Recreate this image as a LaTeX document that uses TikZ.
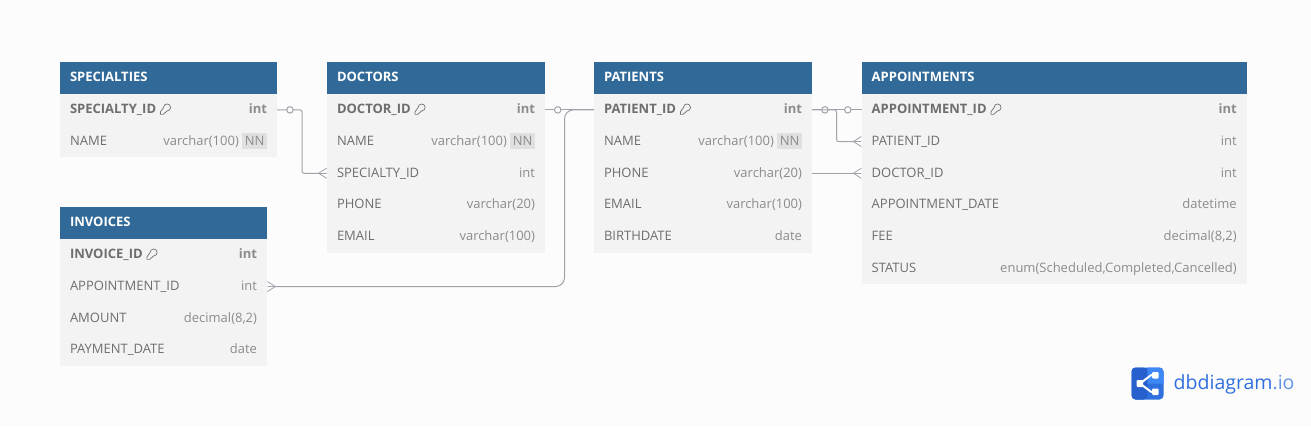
\documentclass[tikz,border=0pt]{standalone}
\usepackage{fontspec}
\setmainfont{Open Sans}
\usetikzlibrary{positioning, arrows.meta}
\definecolor{pagebg}{HTML}{FCFCFC}
\definecolor{headblue}{HTML}{316A99}
\definecolor{rowgray}{HTML}{F3F3F3}
\definecolor{nametext}{HTML}{6E6E6E}
\definecolor{typetext}{HTML}{8C8C8C}
\definecolor{nnfill}{HTML}{E0E0E0}
\definecolor{relgray}{HTML}{A2A2AC}
\definecolor{logoblue}{HTML}{2F6FDE}
\definecolor{logolight}{HTML}{3D88F5}
\definecolor{logodark}{HTML}{2760CC}
\newcommand{\coltype}[1]{\hfill{\color{typetext}#1}}
\newcommand{\nnmark}{\hspace{3.5pt}{\fboxsep=2.5pt\colorbox{nnfill}{\rule[-.7pt]{0pt}{10.2pt}\color{typetext}NN}}}
\newcommand{\keymark}{\hspace{4pt}\tikz[baseline=1pt,x=1pt,y=1pt,line width=.7pt]{\draw[nametext, line join=round] (3.5,7.3) arc[start angle=180, end angle=-90, radius=3.5] -- (3,.4) -- (.4,.4) -- (.4,3) -- cycle;}}
\tikzset{
	tablehead/.style={
		rectangle,
		fill=headblue, text=white,
		font=\fontsize{13}{15}\selectfont\bfseries,
		minimum height=32pt,
		inner xsep=10pt, inner ysep=0pt, outer sep=0pt,
		text height=10pt, text depth=3pt,
		text width=#1,
	},
	tablerow/.style={
		rectangle,
		fill=rowgray, text=nametext,
		font=\fontsize{13}{15}\selectfont,
		minimum height=31.7pt,
		inner xsep=10pt, inner ysep=0pt, outer sep=0pt,
		text height=10.4pt, text depth=2.6pt,
		text width=#1,
	},
	relation/.style={draw=relgray, line width=1pt, rounded corners=2pt},
	manyend/.style={-{Straight Barb[reversed, length=8pt, width=10pt, line width=.8pt, sep=-8pt]Rectangle[length=8pt, width=1pt]}},
	zeromark/.style={circle, draw=relgray, fill=pagebg, line width=1pt, inner sep=0pt, minimum size=6.5pt},
}
\begin{document}
\begin{tikzpicture}[x=1pt, y=-1pt, node distance=0pt]
	\fill[pagebg] (0,0) rectangle (1311,426);
	\useasboundingbox (0,0) rectangle (1311,426);

	% SPECIALTIES
	\node[tablehead=197pt, anchor=north west] (S) at (60,62) {SPECIALTIES};
	\node[tablerow=197pt, below=of S] (S1) {\textbf{SPECIALTY\_ID}\keymark\hfill\textbf{\color{typetext}int}};
	\node[tablerow=197pt, below=of S1] (S2) {NAME\coltype{varchar(100)}\nnmark};

	% INVOICES
	\node[tablehead=187pt, anchor=north west] (I) at (60,207) {INVOICES};
	\node[tablerow=187pt, below=of I] (I1) {\textbf{INVOICE\_ID}\keymark\hfill\textbf{\color{typetext}int}};
	\node[tablerow=187pt, below=of I1] (I2) {APPOINTMENT\_ID\coltype{int}};
	\node[tablerow=187pt, below=of I2] (I3) {AMOUNT\coltype{decimal(8,2)}};
	\node[tablerow=187pt, below=of I3] (I4) {PAYMENT\_DATE\coltype{date}};

	% DOCTORS
	\node[tablehead=198pt, anchor=north west] (D) at (327,62) {DOCTORS};
	\node[tablerow=198pt, below=of D] (D1) {\textbf{DOCTOR\_ID}\keymark\hfill\textbf{\color{typetext}int}};
	\node[tablerow=198pt, below=of D1] (D2) {NAME\coltype{varchar(100)}\nnmark};
	\node[tablerow=198pt, below=of D2] (D3) {SPECIALTY\_ID\coltype{int}};
	\node[tablerow=198pt, below=of D3] (D4) {PHONE\coltype{varchar(20)}};
	\node[tablerow=198pt, below=of D4] (D5) {EMAIL\coltype{varchar(100)}};

	% PATIENTS
	\node[tablehead=198pt, anchor=north west] (P) at (594,62) {PATIENTS};
	\node[tablerow=198pt, below=of P] (P1) {\textbf{PATIENT\_ID}\keymark\hfill\textbf{\color{typetext}int}};
	\node[tablerow=198pt, below=of P1] (P2) {NAME\coltype{varchar(100)}\nnmark};
	\node[tablerow=198pt, below=of P2] (P3) {PHONE\coltype{varchar(20)}};
	\node[tablerow=198pt, below=of P3] (P4) {EMAIL\coltype{varchar(100)}};
	\node[tablerow=198pt, below=of P4] (P5) {BIRTHDATE\coltype{date}};

	% APPOINTMENTS
	\node[tablehead=365pt, anchor=north west] (A) at (861.7,62) {APPOINTMENTS};
	\node[tablerow=365pt, below=of A] (A1) {\textbf{APPOINTMENT\_ID}\keymark\hfill\textbf{\color{typetext}int}};
	\node[tablerow=365pt, below=of A1] (A2) {PATIENT\_ID\coltype{int}};
	\node[tablerow=365pt, below=of A2] (A3) {DOCTOR\_ID\coltype{int}};
	\node[tablerow=365pt, below=of A3] (A4) {APPOINTMENT\_DATE\coltype{datetime}};
	\node[tablerow=365pt, below=of A4] (A5) {FEE\coltype{decimal(8,2)}};
	\node[tablerow=365pt, below=of A5] (A6) {STATUS\coltype{enum(Scheduled,Completed,Cancelled)}};

	% relations
	\draw[relation, manyend] (S1.east) -- node[zeromark, pos=.52] {} ++(25,0) |- (D3.west);
	\draw[relation] (D1.east) -- node[zeromark, pos=.26] {} (P1.west);
	\draw[relation, rounded corners=9pt, manyend] (P1.west) -- ++(-29.5,0) |- (I2.east);
	\draw[relation] (P1.east) -- node[zeromark, pos=.26] {} node[zeromark, pos=.72] {} (A1.west);
	\draw[relation, manyend] (P1.east) -- ++(24.5,0) |- (A2.west);
	\draw[relation, manyend] (P3.east) -- (A3.west);

	% logo
	\fill[logoblue, rounded corners=4pt] (1131.5,367.5) rectangle (1163.5,399.5);
	\fill[logodark, rounded corners=4pt] (1131.5,367.5) rectangle (1147.5,399.5);
	\fill[logolight] (1147.5,367.5) -- (1159.5,367.5) arc[start angle=90, end angle=0, radius=4pt] -- (1163.5,383.5) -- (1147.5,383.5) -- cycle;
	\draw[white, line width=2pt, line join=round] (1155,375.2) -- (1151,375.2) -- (1140,383.5) -- (1151,391.8) -- (1155,391.8);
	\fill[white, rounded corners=1pt] (1136.5,380) rectangle (1143,387) (1152,372) rectangle (1158.5,378.5) (1152,388.5) rectangle (1158.5,395);
	\node[anchor=west, inner sep=0pt, font=\fontsize{19.5}{24}\selectfont, text=logoblue] (L) at (1173.5,384) {dbdiagram{\color{logoblue!75!white}.io}};
\end{tikzpicture}
\end{document}
